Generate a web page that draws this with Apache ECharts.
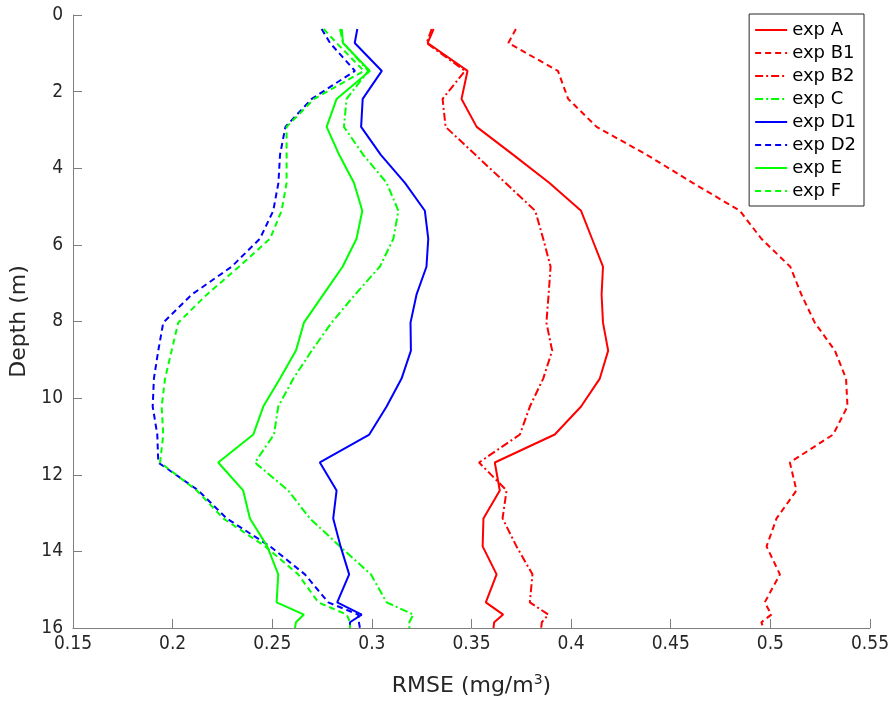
<!DOCTYPE html>
<html>
<head>
<meta charset="utf-8">
<script src="https://cdn.jsdelivr.net/npm/echarts@6/dist/echarts.min.js"></script>
<style>html,body{margin:0;padding:0;background:#fff;}#c{width:892px;height:702px;}</style>
</head>
<body>
<div id="c"></div>
<script>
// Depth levels (m)
var depths = [0.365, 0.73, 1.46, 2.19, 2.92, 3.65, 4.38, 5.11, 5.84, 6.57, 7.30, 8.03, 8.76, 9.49, 10.22, 10.95, 11.68, 12.41, 13.14, 13.87, 14.60, 15.33, 15.65, 15.85, 16.0];
// RMSE values per experiment
var expA  = [0.331, 0.328, 0.348, 0.345, 0.3526, 0.371, 0.389, 0.405, 0.4105, 0.416, 0.4153, 0.416, 0.4186, 0.4144, 0.405, 0.3918, 0.3617, 0.3642, 0.356, 0.3556, 0.3626, 0.3572, 0.3659, 0.3614, 0.361];
var expB1 = [0.3723, 0.3685, 0.3934, 0.3985, 0.4128, 0.438, 0.461, 0.4847, 0.4955, 0.510, 0.5156, 0.5223, 0.5324, 0.538, 0.5387, 0.5315, 0.5098, 0.5131, 0.5031, 0.4981, 0.5048, 0.4972, 0.5005, 0.4955, 0.4965];
var expB2 = [0.330, 0.3275, 0.3467, 0.3355, 0.337, 0.352, 0.367, 0.382, 0.386, 0.3897, 0.3887, 0.3876, 0.3905, 0.386, 0.3793, 0.3743, 0.3538, 0.3676, 0.3656, 0.3726, 0.3806, 0.3793, 0.3886, 0.3853, 0.385];
var expC  = [0.284, 0.2856, 0.2982, 0.2873, 0.286, 0.2957, 0.3074, 0.3133, 0.3108, 0.304, 0.2915, 0.2798, 0.2698, 0.2606, 0.253, 0.2509, 0.2413, 0.258, 0.2689, 0.284, 0.2995, 0.3074, 0.3208, 0.3188, 0.3188];
var expD1 = [0.2927, 0.2914, 0.305, 0.2954, 0.2946, 0.3045, 0.3166, 0.3266, 0.3283, 0.3274, 0.3224, 0.3194, 0.3196, 0.3149, 0.3074, 0.2987, 0.2739, 0.2823, 0.2806, 0.2843, 0.2886, 0.2826, 0.2949, 0.289, 0.289];
var expD2 = [0.2748, 0.279, 0.2915, 0.2698, 0.2566, 0.2539, 0.2531, 0.2505, 0.2438, 0.2296, 0.2095, 0.1953, 0.1928, 0.1906, 0.190, 0.1923, 0.1928, 0.2129, 0.2271, 0.2489, 0.2664, 0.2781, 0.2931, 0.2935, 0.294];
var expE  = [0.2849, 0.2855, 0.299, 0.2823, 0.2773, 0.2836, 0.291, 0.2952, 0.2923, 0.2853, 0.2756, 0.2659, 0.2619, 0.2539, 0.2455, 0.2405, 0.2229, 0.2354, 0.2388, 0.2475, 0.253, 0.2522, 0.2659, 0.2619, 0.2614];
var expF  = [0.2758, 0.2823, 0.296, 0.271, 0.2572, 0.2572, 0.2572, 0.2547, 0.2489, 0.2333, 0.2171, 0.2028, 0.1995, 0.1962, 0.1945, 0.1953, 0.1937, 0.2121, 0.2254, 0.2465, 0.263, 0.2731, 0.2874, 0.289, 0.289];
var xTicks = [0.15, 0.2, 0.25, 0.3, 0.35, 0.4, 0.45, 0.5, 0.55];
var yTicks = [0, 2, 4, 6, 8, 10, 12, 14, 16];

var DASH = [6, 4];
var DASHDOT = [8, 3, 2, 3];
var defs = [
  {name: 'exp A',  v: expA,  color: '#ff0000', type: 'solid'},
  {name: 'exp B1', v: expB1, color: '#ff0000', type: DASH},
  {name: 'exp B2', v: expB2, color: '#ff0000', type: DASHDOT},
  {name: 'exp C',  v: expC,  color: '#00ff00', type: DASHDOT},
  {name: 'exp D1', v: expD1, color: '#0000ff', type: 'solid'},
  {name: 'exp D2', v: expD2, color: '#0000ff', type: DASH},
  {name: 'exp E',  v: expE,  color: '#00ff00', type: 'solid'},
  {name: 'exp F',  v: expF,  color: '#00ff00', type: DASH}
];

var series = defs.map(function (d) {
  return {
    name: d.name,
    type: 'line',
    symbol: 'none',
    showSymbol: false,
    animation: false,
    data: d.v.map(function (x, i) { return [x, depths[i]]; }),
    lineStyle: {color: d.color, width: 2, type: d.type},
    itemStyle: {color: d.color}
  };
});

var axisGray = '#7f7f7f';
var txt = '#262626';
var chart = echarts.init(document.getElementById('c'), null, {renderer: 'canvas'});
chart.setOption({
  animation: false,
  backgroundColor: '#ffffff',
  grid: {left: 73, right: 22, top: 15, bottom: 73, containLabel: false},
  xAxis: {
    type: 'value', min: 0.15, max: 0.55, interval: 0.05,
    name: 'RMSE (mg/m{sup|3})', nameLocation: 'middle', nameGap: 45,
    nameTextStyle: {fontFamily: 'DejaVu Sans', fontSize: 22, color: txt,
      rich: {sup: {fontFamily: 'DejaVu Sans', fontSize: 14, color: txt, verticalAlign: 'top', padding: [0, 0, 12, 0]}}},
    axisLine: {show: true, onZero: false, lineStyle: {color: axisGray, width: 1}},
    axisTick: {show: true, inside: true, length: 9, lineStyle: {color: axisGray}},
    axisLabel: {fontFamily: "'DejaVu Sans Condensed', 'DejaVu Sans'", fontSize: 19, color: txt, margin: 7,
      formatter: function (v) { var t = xTicks.filter(function (k) { return Math.abs(k - v) < 1e-6; }); return t.length ? String(t[0]) : ''; }},
    splitLine: {show: false}
  },
  yAxis: {
    type: 'value', inverse: true, min: 0, max: 16, interval: 2,
    name: 'Depth (m)', nameLocation: 'middle', nameGap: 33, nameRotate: 90,
    nameTextStyle: {fontFamily: 'DejaVu Sans', fontSize: 22, color: txt},
    axisLine: {show: true, onZero: false, lineStyle: {color: axisGray, width: 1}},
    axisTick: {show: true, inside: true, length: 9, lineStyle: {color: axisGray}},
    axisLabel: {fontFamily: "'DejaVu Sans Condensed', 'DejaVu Sans'", fontSize: 19, color: txt, margin: 10,
      formatter: function (v) { return yTicks.indexOf(v) >= 0 ? String(v) : ''; }},
    splitLine: {show: false}
  },
  legend: {
    orient: 'vertical', right: 28, top: 14,
    backgroundColor: '#ffffff', borderColor: '#262626', borderWidth: 1,
    padding: [7, 8, 6, 5], itemGap: 5, itemWidth: 32, itemHeight: 18,
    itemStyle: {opacity: 0},
    textStyle: {fontFamily: 'DejaVu Sans', fontSize: 18, color: '#000'},
    data: defs.map(function (d) { return d.name; })
  },
  series: series
});
</script>
</body>
</html>
